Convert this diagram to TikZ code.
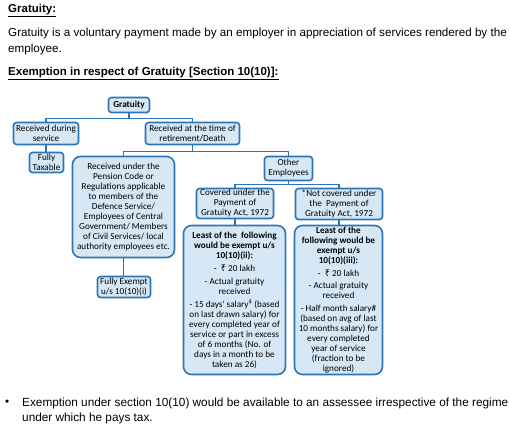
\documentclass[tikz,border=0pt]{standalone}
\usepackage{fontspec}
\setmainfont{Liberation Sans}
\newfontfamily\diagfont{Carlito}
\newfontfamily\rupeefont{Noto Sans}
\usepackage{tikz}
\usetikzlibrary{positioning}

\definecolor{boxline}{RGB}{46,117,182}
\definecolor{boxfill}{RGB}{214,232,246}
\newcommand{\rs}{{\rupeefont ₹}}

\begin{document}
\begin{tikzpicture}[
    x=1pt, y=-1pt,
    box/.style={
        rectangle,
        rounded corners=3pt,
        draw=boxline,
        line width=1.6pt,
        fill=boxfill,
        align=center,
        inner sep=1pt,
        font=\diagfont\fontsize{9.2}{10}\selectfont
    },
    bigbox/.style={box, rounded corners=8pt},
    link/.style={draw=boxline, line width=1.6pt},
    txt/.style={anchor=base west, inner sep=0pt, font=\fontsize{11.65}{13}\selectfont}
]
\useasboundingbox (0,0) rectangle (510,429);

% heading and intro text
\node[txt, font=\bfseries\fontsize{11.5}{13}\selectfont] (head) at (8,12) {\underline{Gratuity:}};
\node[txt] (intro1) at (8,36) {Gratuity is a voluntary payment made by an employer in appreciation of services rendered by the};
\node[txt] (intro2) at (8,52) {employee.};
\node[txt, font=\bfseries\fontsize{11.5}{13}\selectfont] (exhead) at (8,75) {\underline{Exemption in respect of Gratuity [Section 10(10)]:}};

% tree
\node[box, font=\diagfont\bfseries\fontsize{9.2}{10}\selectfont, minimum width=41pt, minimum height=15pt] (grat) at (129,105) {Gratuity};
\node[box, minimum width=65pt, minimum height=22pt] (rds) at (46,133.5) {Received during\\service};
\node[box, minimum width=94pt, minimum height=22pt] (ret) at (192.5,133.5) {Received at the time of\\retirement/Death};
\node[box, minimum width=34pt, minimum height=20pt] (ft) at (46.5,162.5) {Fully\\Taxable};
\node[bigbox, minimum width=102pt, minimum height=101pt] (pen) at (123.5,207) {Received under the\\Pension Code or\\Regulations applicable\\to members of the\\Defence Service/\\Employees of Central\\Government/ Members\\of Civil Services/ local\\authority employees etc.};
\node[box, minimum width=53pt, minimum height=21pt] (fe) at (124,287) {Fully Exempt\\u/s 10(10)(i)};
\node[box, minimum width=48pt, minimum height=24pt] (oth) at (288.5,168.5) {Other\\Employees};
\node[box, minimum width=77pt, minimum height=30pt] (cov) at (235,203.5) {Covered under the\\Payment of\\Gratuity Act, 1972};
\node[box, minimum width=87pt, minimum height=31pt] (ncov) at (339,204) {*Not covered under\\the\ \ Payment of\\Gratuity Act, 1972};
\node[bigbox, minimum width=102pt, minimum height=149pt] (lii) at (234.5,300) {\textbf{Least of the\ \ following}\\\textbf{would be exempt u/s}\\\textbf{10(10)(ii):}\\[3pt]
    -\ \ \rs\ 20 lakh\\[3pt]
    - Actual gratuity\\received\\[3pt]
    - 15 days' salary\textsuperscript{\$} (based\\on last drawn salary) for\\every completed year of\\service or part in excess\\of 6 months (No. of\\days in a month to be\\taken as 26)};
\node[bigbox, minimum width=88pt, minimum height=149pt] (liii) at (338.5,300) {\textbf{Least of the}\\\textbf{following would be}\\\textbf{exempt u/s}\\\textbf{10(10)(iii):}\\[2.5pt]
    -\ \ \rs\ 20 lakh\\[2.5pt]
    - Actual gratuity\\received\\[2.5pt]
    - Half month salary\#\\(based on avg of last\\10 months salary) for\\every completed\\year of service\\(fraction to be\\ignored)};

\draw[link] (grat.south) -- ++(0,5) -| (rds.north);
\draw[link] (grat.south) -- ++(0,5) -| (ret.north);
\draw[link] (rds.south) -- (rds.south |- ft.north);
\draw[link] (ret.south) -- ++(0,6) -| (pen.north);
\draw[link] (ret.south) -- ++(0,6) -| (oth.north);
\draw[link] (pen.south) -- (pen.south |- fe.north);
\draw[link] (oth.south) -- ++(0,3) -| (cov.north);
\draw[link] (oth.south) -- ++(0,3) -| (ncov.north);
\draw[link] (cov.south) -- (cov.south |- lii.north);
\draw[link] (ncov.south) -- (ncov.south |- liii.north);

% closing note
\node[txt] (bul) at (5,405) {\textbullet};
\node[txt, font=\fontsize{11.8}{13}\selectfont] (note1) at (22,406) {Exemption under section 10(10) would be available to an assessee irrespective of the regime};
\node[txt, font=\fontsize{11.8}{13}\selectfont] (note2) at (22,421) {under which he pays tax.};

\end{tikzpicture}
\end{document}
